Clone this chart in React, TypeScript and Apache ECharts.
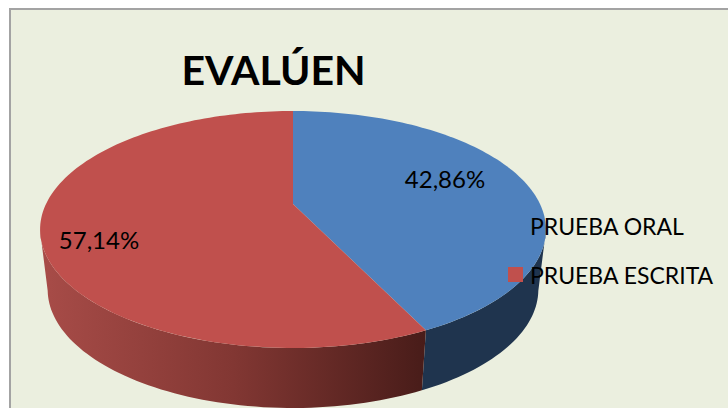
import React, { useEffect, useRef } from "react";
import * as echarts from "echarts";

const titleText = "EVALÚEN";
const categories = ["PRUEBA ORAL", "PRUEBA ESCRITA"];
const shares = [42.86, 57.14];
const topColors = ["#4f81bd", "#c0504d"];

const total = shares.reduce((a, b) => a + b, 0);
const FONT = "Lato, Carlito, 'Noto Sans', sans-serif";

// Projection of the tilted pie disc
const CX = 293, APEX_Y = 204, A = 247, B = 113, K = 0.2152;
const WALL_SCALE = 0.97, WALL_DROP = 60;
const WALL_RIGHT_DEG = 103, WALL_LEFT_DEG = 257;
const labelAnchors = [[445, 178], [99, 239]];

function project(deg: number): [number, number] {
  const r = (deg * Math.PI) / 180;
  const u = Math.sin(r), v = -Math.cos(r);
  const w = 1 - K * v;
  return [CX + (A * u) / w, APEX_Y + (B * v) / w];
}
const lower = (p: [number, number]): [number, number] => [CX + (p[0] - CX) * WALL_SCALE, p[1] + WALL_DROP];

function arcPoints(from: number, to: number) {
  const pts: [number, number][] = [];
  const n = Math.max(2, Math.ceil(Math.abs(to - from) / 1.5));
  for (let i = 0; i <= n; i++) pts.push(project(from + ((to - from) * i) / n));
  return pts;
}

function makeSeries(index: number) {
  const startShare = shares.slice(0, index).reduce((a, b) => a + b, 0);
  return {
    type: "custom",
    name: categories[index],
    coordinateSystem: "none",
    silent: true,
    clip: false,
    itemStyle: { color: topColors[index] },
    data: [[shares[index]]],
    renderItem: (_p: any, api: any) => {
      const value = api.value(0) as number;
      const from = (startShare / total) * 360;
      const to = from + (value / total) * 360;
      const rim = arcPoints(from, to);
      const wFrom = Math.max(from, WALL_RIGHT_DEG), wTo = Math.min(to, WALL_LEFT_DEG);
      const wallTop = arcPoints(wFrom, wTo);
      const wallBottom = wallTop.map(lower).reverse();
      const wallFill =
        index === 0
          ? "#1f344e"
          : new echarts.graphic.LinearGradient(0, 0, 1, 0, [
              { offset: 0, color: "#a84c48" },
              { offset: 0.5, color: "#823733" },
              { offset: 1, color: "#481c19" },
            ]);
      return {
        type: "group",
        children: [
          { type: "polygon", shape: { points: [...wallTop, ...wallBottom] }, style: { fill: wallFill } },
          { type: "polygon", shape: { points: [[CX, APEX_Y], ...rim] }, style: { fill: topColors[index] } },
          {
            type: "text",
            style: {
              x: labelAnchors[index][0],
              y: labelAnchors[index][1],
              text: value.toFixed(2).replace(".", ",") + "%",
              fill: "#000",
              font: `24px ${FONT}`,
              textAlign: "center",
              textVerticalAlign: "middle",
            },
          },
        ],
      };
    },
  };
}

export default function App() {
  const ref = useRef<HTMLDivElement>(null);
  useEffect(() => {
    document.body.style.margin = "0";
    const chart = echarts.init(ref.current!, null, { renderer: "svg" });
    chart.setOption({
      animation: false,
      backgroundColor: "#ffffff",
      graphic: [
        {
          type: "rect",
          z: 0,
          shape: { x: 10, y: 9, width: 800, height: 500 },
          style: { fill: "#ebefdf", stroke: "#a3a3a3", lineWidth: 2 },
        },
      ],
      title: {
        text: titleText,
        left: 268.5,
        top: 44,
        textAlign: "center",
        textStyle: { fontFamily: FONT, fontWeight: "bold", fontSize: 41, color: "#000" },
      },
      legend: {
        left: 503,
        top: 209,
        orient: "vertical",
        icon: "rect",
        itemWidth: 15,
        itemHeight: 15,
        itemGap: 26,
        data: categories,
        textStyle: { fontFamily: FONT, fontSize: 23, color: "#000", padding: [0, 0, 0, 2] },
      },
      series: shares.map((_, i) => makeSeries(i)),
    });
    return () => chart.dispose();
  }, []);
  return <div ref={ref} style={{ width: 728, height: 408 }} />;
}
